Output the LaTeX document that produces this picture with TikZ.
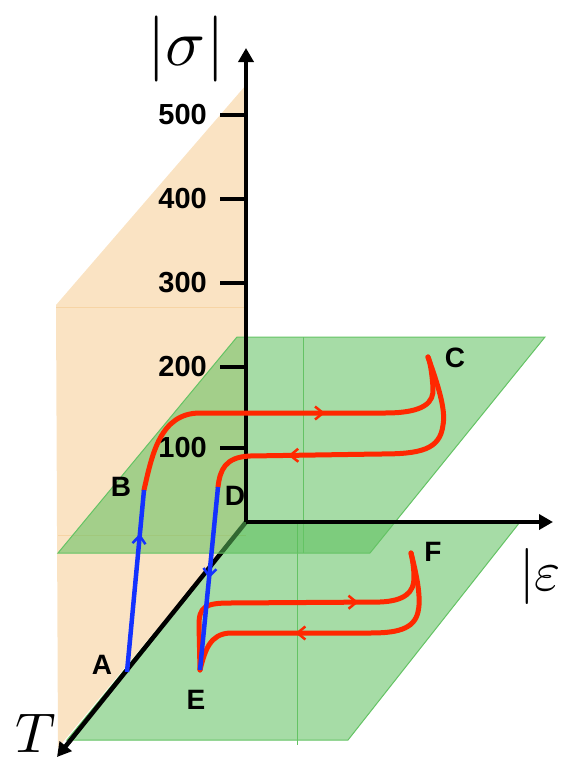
\documentclass[tikz,border=0pt]{standalone}
\usepackage{fontspec}
\newfontfamily\labfont{Liberation Sans}
\usetikzlibrary{arrows.meta,decorations.markings}
\definecolor{peach}{RGB}{250,227,195}
\definecolor{peachedge}{RGB}{246,212,165}
\definecolor{gfill}{RGB}{92,191,92}
\definecolor{gedge}{RGB}{100,195,100}
\definecolor{redc}{RGB}{255,40,0}
\definecolor{bluec}{RGB}{20,50,255}
\tikzset{
  axis/.style={line width=4.5pt,-{Triangle[length=14pt,width=15pt]}},
  tick/.style={line width=4.5pt},
  ticklab/.style={anchor=east,font=\labfont\bfseries\fontsize{29}{29}\selectfont,inner sep=0pt},
  ptlab/.style={font=\labfont\bfseries\fontsize{28}{28}\selectfont,inner sep=0pt},
  plane/.style={fill=gfill,fill opacity=0.55,draw=gedge,line width=1pt},
  redline/.style={draw=redc,line width=5pt,line cap=round,line join=round},
  blueline/.style={draw=bluec,line width=4.5pt},
  midarr/.style={postaction={decorate},decoration={markings,
     mark=at position #1 with {\arrow[line width=2.5pt]{Straight Barb[length=8pt,width=13pt]}}}}
}
\begin{document}
\begin{tikzpicture}[x=1pt,y=-1pt]
\useasboundingbox (0,0) rectangle (563,763);
% key points
\coordinate (O) at (246,522);
\coordinate (sigtop) at (246,48);
\coordinate (epsend) at (553,522);
\coordinate (Tend) at (57,757);
\coordinate (A) at (127,672);
\coordinate (B) at (144,490);
\coordinate (C) at (428,357);
\coordinate (D) at (218,487);
\coordinate (E) at (200,670);
\coordinate (F) at (411,553);
% orange plane
\fill[peach] (246,85) -- (56,305) -- (58,748) -- (246,522) -- cycle;
\draw[peachedge,line width=0.8pt] (56,307) -- (246,307);
\draw[peachedge,line width=0.8pt] (58,535) -- (246,535);
% lower green plane
\path[plane] (246,522) -- (520,522) -- (348,740) -- (67,740) -- cycle;
\draw[gedge,line width=0.8pt] (297,522) -- (297,745);
% T axis
\draw[axis] (O) -- (Tend);
% upper green plane
\path[plane] (237,337) -- (545,337) -- (370,553) -- (58,553) -- cycle;
\draw[gedge,line width=0.8pt] (303,337) -- (303,553);
% axes
\draw[axis] (O) -- (sigtop);
\draw[axis] (O) -- (epsend);
% ticks
\foreach \v/\y in {500/115,400/199,300/283,200/367,100/448}{
  \draw[tick] (220,\y) -- (246,\y);
  \node[ticklab] (t\v) at (207,\y) {\v};
}
% axis labels
\node[inner sep=0pt,scale=6.6] (siglab) at (186,49) {$|\sigma|$};
\node[inner sep=0pt,anchor=west,scale=5.6] (epslab) at (518,576) {$|\varepsilon$};
\node[inner sep=0pt,scale=5.6] (Tlab) at (36,733) {$T$};
% red curves
\draw[redline,midarr=0.6] (B) .. controls (152,455) and (160,413) .. (200,413) -- (385,413)
   .. controls (425,413) and (434,402) .. (433,388) .. controls (432,372) and (430,362) .. (C);
\draw[redline,midarr=0.73] (C) .. controls (438,385) and (446,410) .. (443,425)
   .. controls (440,450) and (420,454) .. (380,454) -- (250,456)
   .. controls (225,457) and (220,470) .. (D);
\draw[redline,midarr=0.7] (E) -- (199,625) .. controls (199,607) and (205,603) .. (230,603) -- (380,602)
   .. controls (405,601) and (414,592) .. (414,578) .. controls (414,566) and (412,558) .. (F);
\draw[redline,midarr=0.62] (F) .. controls (418,580) and (421,600) .. (418,612)
   .. controls (414,630) and (395,633) .. (370,633) -- (230,633)
   .. controls (210,634) and (205,650) .. (E);
% blue lines
\draw[blueline,midarr=0.76] (A) -- (B);
\draw[blueline,midarr=0.5] (D) -- (E);
% point labels
\node[ptlab] (lA) at (102,665) {A};
\node[ptlab] (lB) at (121,487) {B};
\node[ptlab] (lC) at (455,358) {C};
\node[ptlab] (lD) at (235,496) {D};
\node[ptlab] (lE) at (196,700) {E};
\node[ptlab] (lF) at (433,552) {F};
\end{tikzpicture}
\end{document}
